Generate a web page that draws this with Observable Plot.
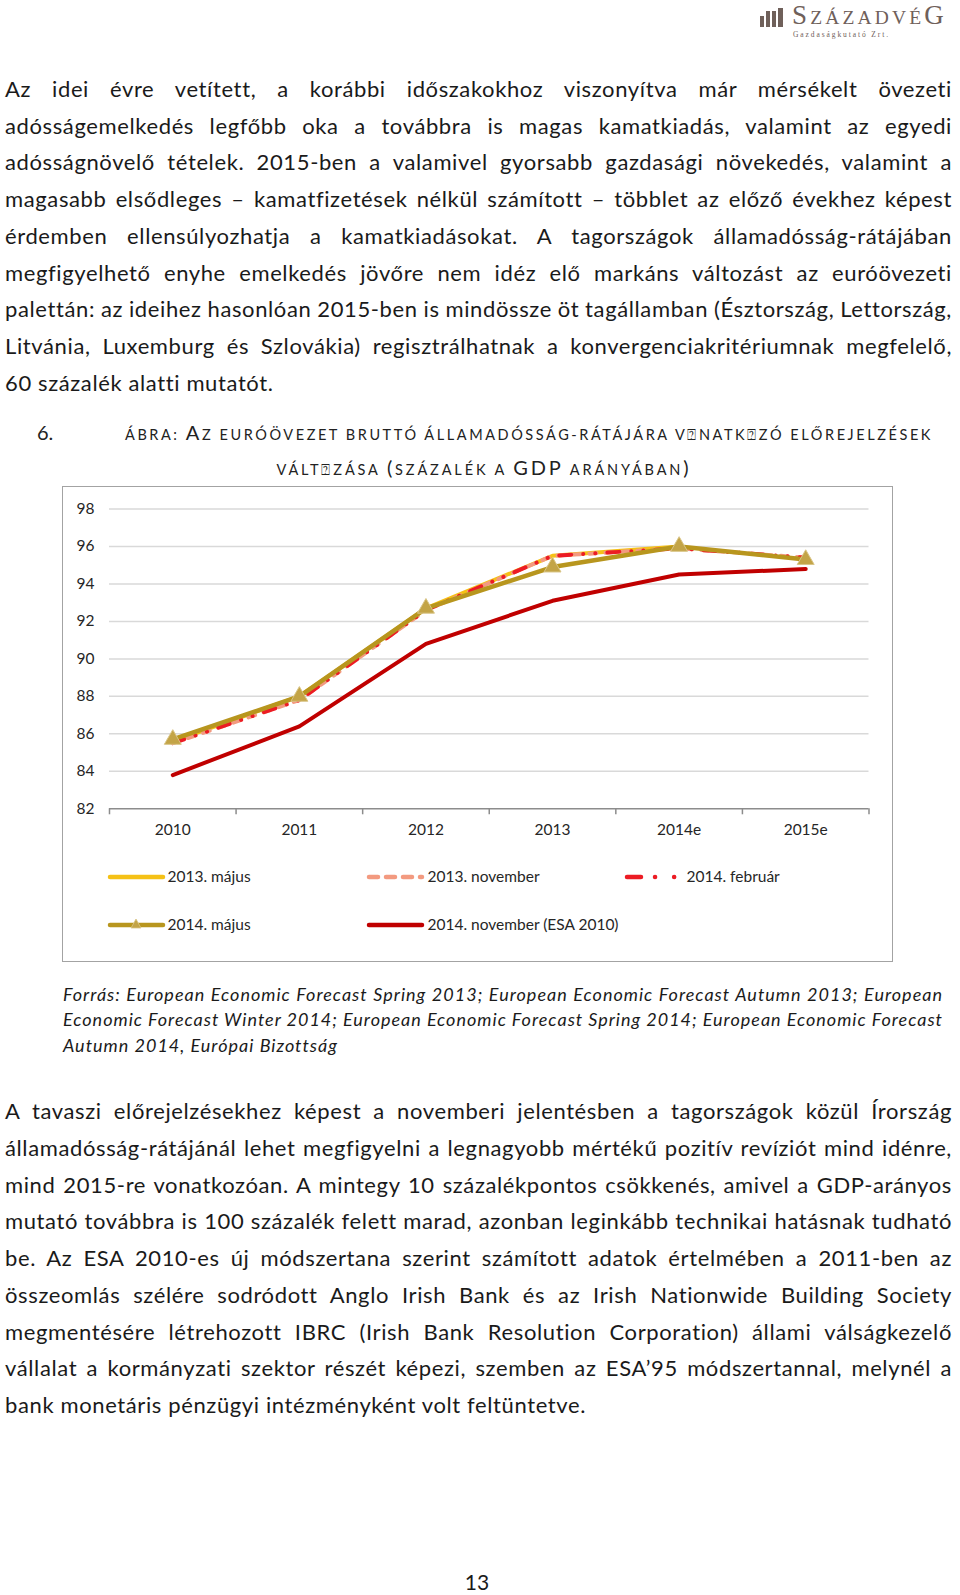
<!DOCTYPE html>
<html><head><meta charset="utf-8">
<script src="https://cdn.jsdelivr.net/npm/d3@7"></script>
<script src="https://cdn.jsdelivr.net/npm/@observablehq/plot@0.6"></script>
<style>
html,body{margin:0;padding:0;background:#fff;}
#page{position:relative;width:960px;height:1595px;overflow:hidden;font-family:Lato,"Open Sans",sans-serif;color:#1a1a1a;}
.t{position:absolute;white-space:nowrap;}
#box{position:absolute;left:62px;top:486px;width:831px;height:476px;box-sizing:border-box;border:1.5px solid #a3a3a3;}
#plotwrap{position:absolute;left:-1.5px;top:-1.5px;}
.leg{position:absolute;font-size:15.5px;color:#262626;white-space:nowrap;line-height:20px;}
</style>
</head><body>
<div id="page">
  <div id="box"><div id="plotwrap"></div></div>
</div>
<script>
// ---------------- chart data ----------------
const categories = ["2010", "2011", "2012", "2013", "2014e", "2015e"];
const yTicks = [82, 84, 86, 88, 90, 92, 94, 96, 98];
const seriesNames = ["2013. május", "2013. november", "2014. február", "2014. május", "2014. november (ESA 2010)"];
const may2013 = [85.6, 88.0, 92.7, 95.5, 96.0, null];
const nov2013 = [85.5, 87.8, 92.6, 95.5, 95.9, 95.4];
const feb2014 = [85.5, 87.8, 92.6, 95.5, 95.9, 95.4];
const may2014 = [85.7, 88.0, 92.7, 94.9, 96.0, 95.3];
const nov2014 = [83.8, 86.4, 90.8, 93.1, 94.5, 94.8];

// ---------------- text content ----------------
const para1 = [
  "Az idei évre vetített, a korábbi időszakokhoz viszonyítva már mérsékelt övezeti",
  "adósságemelkedés legfőbb oka a továbbra is magas kamatkiadás, valamint az egyedi",
  "adósságnövelő tételek. 2015-ben a valamivel gyorsabb gazdasági növekedés, valamint a",
  "magasabb elsődleges – kamatfizetések nélkül számított – többlet az előző évekhez képest",
  "érdemben ellensúlyozhatja a kamatkiadásokat. A tagországok államadósság-rátájában",
  "megfigyelhető enyhe emelkedés jövőre nem idéz elő markáns változást az euróövezeti",
  "palettán: az ideihez hasonlóan 2015-ben is mindössze öt tagállamban (Észtország, Lettország,",
  "Litvánia, Luxemburg és Szlovákia) regisztrálhatnak a konvergenciakritériumnak megfelelő,",
  "60 százalék alatti mutatót."
];
const para2 = [
  "A tavaszi előrejelzésekhez képest a novemberi jelentésben a tagországok közül Írország",
  "államadósság-rátájánál lehet megfigyelni a legnagyobb mértékű pozitív revíziót mind idénre,",
  "mind 2015-re vonatkozóan. A mintegy 10 százalékpontos csökkenés, amivel a GDP-arányos",
  "mutató továbbra is 100 százalék felett marad, azonban leginkább technikai hatásnak tudható",
  "be. Az ESA 2010-es új módszertana szerint számított adatok értelmében a 2011-ben az",
  "összeomlás szélére sodródott Anglo Irish Bank és az Irish Nationwide Building Society",
  "megmentésére létrehozott IBRC (Irish Bank Resolution Corporation) állami válságkezelő",
  "vállalat a kormányzati szektor részét képezi, szemben az ESA’95 módszertannal, melynél a",
  "bank monetáris pénzügyi intézményként volt feltüntetve."
];
const caption = [
  "Forrás: European Economic Forecast Spring 2013; European Economic Forecast Autumn 2013; European",
  "Economic Forecast Winter 2014; European Economic Forecast Spring 2014; European Economic Forecast",
  "Autumn 2014, Európai Bizottság"
];

const page = document.getElementById("page");

function measure(text, size, italic) {
  const s = document.createElement("span");
  s.style.cssText = `position:absolute;white-space:nowrap;font-size:${size}px;visibility:hidden;` + (italic ? "font-style:italic;" : "");
  s.textContent = text;
  page.appendChild(s);
  const w = s.getBoundingClientRect().width;
  page.removeChild(s);
  return w;
}

function addText(html, o) {
  const d = document.createElement("div");
  d.className = "t";
  d.style.left = o.left + "px";
  d.style.top = o.top + "px";
  d.style.fontSize = o.size + "px";
  d.style.lineHeight = (o.lh || o.size * 1.2) + "px";
  if (o.italic) d.style.fontStyle = "italic";
  if (o.color) d.style.color = o.color;
  if (o.family) d.style.fontFamily = o.family;
  const s = document.createElement("span");
  s.innerHTML = html;
  if (o.ls) s.style.letterSpacing = o.ls + "px";
  d.appendChild(s);
  page.appendChild(d);
  const w = s.getBoundingClientRect().width;
  if (o.justify && o.width) {
    const spaces = (s.textContent.match(/ /g) || []).length;
    if (spaces) s.style.wordSpacing = ((o.width - w) / spaces) + "px";
  }
  if (o.fitLetters && o.width) {
    const n = s.textContent.length;
    const cur = parseFloat(getComputedStyle(s).letterSpacing) || 0;
    s.style.letterSpacing = (cur + (o.width - w) / n) + "px";
  }
  if (o.center !== undefined) {
    const w2 = s.getBoundingClientRect().width;
    d.style.left = (o.center - w2 / 2) + "px";
  }
  return d;
}

// calibrate letter spacing so that the (unjustified) last lines match the reference widths
const bodySize = 22;
const bl1 = para1[para1.length - 1], bl2 = para2[para2.length - 1];
const bodyLs = ((267 + 582) - (measure(bl1, bodySize) + measure(bl2, bodySize))) / (bl1.length + bl2.length);
const capSize = 18;
const cl = caption[caption.length - 1];
const capLs = (274 - measure(cl, capSize, true)) / cl.length;

para1.forEach((l, i) => addText(l, {left: 5, top: 71 + i * 36.7, size: bodySize, lh: 36, ls: bodyLs, justify: i < para1.length - 1, width: 947}));
para2.forEach((l, i) => addText(l, {left: 5, top: 1093 + i * 36.75, size: bodySize, lh: 36, ls: bodyLs, justify: i < para2.length - 1, width: 947}));
caption.forEach((l, i) => addText(l, {left: 63, top: 982 + i * 25.3, size: capSize, lh: 25, ls: capLs, italic: true, justify: i < caption.length - 1, width: 880}));

// title
const big = s => `<span style="font-size:20px">${s}</span>`;
const sm = s => `<span style="font-size:14.5px">${s}</span>`;
addText("6.", {left: 37, top: 417, size: 20, lh: 30, color: "#222"});
addText(sm("ÁBRA: ") + big("A") + sm("Z EURÓÖVEZET BRUTTÓ ÁLLAMADÓSSÁG-RÁTÁJÁRA V⍰NATK⍰ZÓ ELŐREJELZÉSEK"),
  {left: 125, top: 417, size: 20, lh: 30, color: "#222", fitLetters: true, width: 808});
addText(sm("VÁLT⍰ZÁSA ") + big("(") + sm("SZÁZALÉK A ") + big("GDP") + sm(" ARÁNYÁBAN") + big(")"),
  {left: 277, top: 452, size: 20, lh: 30, color: "#222", fitLetters: true, width: 415, center: 484});

// page number
addText("13", {left: 465, top: 1570, size: 21, lh: 24, center: 477});

// logo (decoration)
(function () {
  const c = "#6f605a";
  const bars = [[760, 16, 4], [766, 11, 4], [772, 11, 4], [778, 8, 5]];
  bars.forEach(([x, t, w]) => {
    const b = document.createElement("div");
    b.style.cssText = `position:absolute;left:${x}px;top:${t}px;width:${w}px;height:${27 - t}px;background:${c};`;
    page.appendChild(b);
  });
  addText(`<span style="font-size:27px">S</span><span style="font-size:19.5px">ZÁZADVÉ</span><span style="font-size:27px">G</span>`,
    {left: 792, top: 0, size: 27, lh: 30, color: c, family: "'Liberation Serif','DejaVu Serif',serif", fitLetters: true, width: 155});
  addText("Gazdaságkutató Zrt.", {left: 793, top: 30, size: 7.5, lh: 9, color: c, family: "'Liberation Serif','DejaVu Serif',serif", fitLetters: true, width: 97});
})();

// ---------------- chart ----------------
const idx = categories.map((_, i) => i);
const rows = arr => idx.filter(i => arr[i] != null).map(i => ({i, v: arr[i], cat: categories[i]}));
const colors = {may2013: "#F5C116", nov2013: "#F39A80", feb2014: "#EC1C24", may2014: "#B8961E", nov2014: "#C00000"};

const chart = Plot.plot({
  width: 831,
  height: 365,
  marginLeft: 47,
  marginRight: 24,
  marginTop: 22.5,
  marginBottom: 42.5,
  style: {fontFamily: "Lato, sans-serif", fontSize: "15.5px", color: "#262626", background: "transparent", overflow: "visible"},
  x: {type: "linear", domain: [-0.5, categories.length - 0.5]},
  y: {domain: [82, 98]},
  marks: [
    Plot.gridY(yTicks.filter(t => t > 82), {stroke: "#d9d9d9", strokeOpacity: 1, strokeWidth: 1.5}),
    Plot.axisY(yTicks, {tickSize: 0, tickPadding: 15, label: null}),
    Plot.ruleY([82], {stroke: "#8c8c8c", strokeWidth: 1.5}),
    Plot.axisX(d3.range(-0.5, categories.length), {tickSize: 6, tickFormat: () => "", stroke: "#8c8c8c", strokeWidth: 1.5, label: null}),
    Plot.axisX(idx, {tickSize: 0, tickPadding: 15, tickFormat: i => categories[i], label: null}),
    Plot.line(rows(may2013), {x: "i", y: "v", stroke: colors.may2013, strokeWidth: 4}),
    Plot.line(rows(nov2013), {x: "i", y: "v", stroke: colors.nov2013, strokeWidth: 4, strokeDasharray: "7,9", strokeLinecap: "round"}),
    Plot.line(rows(feb2014), {x: "i", y: "v", stroke: colors.feb2014, strokeWidth: 4, strokeDasharray: "12,12,0.1,12,0.1,12", strokeLinecap: "round"}),
    Plot.line(rows(may2014), {x: "i", y: "v", stroke: colors.may2014, strokeWidth: 4.5}),
    Plot.dot(rows(may2014), {x: "i", y: "v", symbol: "triangle", r: 6.3, fill: "#C3A447", stroke: "#D9C588", strokeWidth: 1}),
    Plot.line(rows(nov2014), {x: "i", y: "v", stroke: colors.nov2014, strokeWidth: 4})
  ]
});
document.getElementById("plotwrap").appendChild(chart);

// ---------------- legend (inside the box, below the plot SVG) ----------------
const box = document.getElementById("box");
const legendItems = [
  {name: seriesNames[0], col: 0, row: 0, stroke: colors.may2013, dash: null},
  {name: seriesNames[1], col: 1, row: 0, stroke: colors.nov2013, dash: "9,8"},
  {name: seriesNames[2], col: 2, row: 0, stroke: colors.feb2014, dash: "14,14,0.1,19,0.1,19"},
  {name: seriesNames[3], col: 0, row: 1, stroke: colors.may2014, dash: null, tri: true},
  {name: seriesNames[4], col: 1, row: 1, stroke: colors.nov2014, dash: null}
];
const colX = [46, 305, 563];
const colTextX = [106, 366, 625];
const rowY = [391, 439];
legendItems.forEach(it => {
  const cx = colX[it.col], cy = rowY[it.row];
  const svgNS = "http://www.w3.org/2000/svg";
  const svg = document.createElementNS(svgNS, "svg");
  svg.setAttribute("width", 60); svg.setAttribute("height", 14);
  svg.style.cssText = `position:absolute;left:${cx - 1.5}px;top:${cy - 7 - 1.5}px;overflow:visible`;
  const ln = document.createElementNS(svgNS, "line");
  ln.setAttribute("x1", 2); ln.setAttribute("x2", 55); ln.setAttribute("y1", 7); ln.setAttribute("y2", 7);
  ln.setAttribute("stroke", it.stroke); ln.setAttribute("stroke-width", 4.5); ln.setAttribute("stroke-linecap", "round");
  if (it.dash) ln.setAttribute("stroke-dasharray", it.dash);
  svg.appendChild(ln);
  if (it.tri) {
    const p = document.createElementNS(svgNS, "path");
    p.setAttribute("d", "M28,1 L33,10 L23,10 Z");
    p.setAttribute("fill", "#C3A447"); p.setAttribute("stroke", "#D9C588"); p.setAttribute("stroke-width", 0.8);
    svg.appendChild(p);
  }
  box.appendChild(svg);
  const t = document.createElement("div");
  t.className = "leg";
  t.textContent = it.name;
  t.style.left = (colTextX[it.col] - 1.5) + "px";
  t.style.top = (cy - 10 - 1.5 - 1) + "px";
  box.appendChild(t);
});
</script>
</body></html>
